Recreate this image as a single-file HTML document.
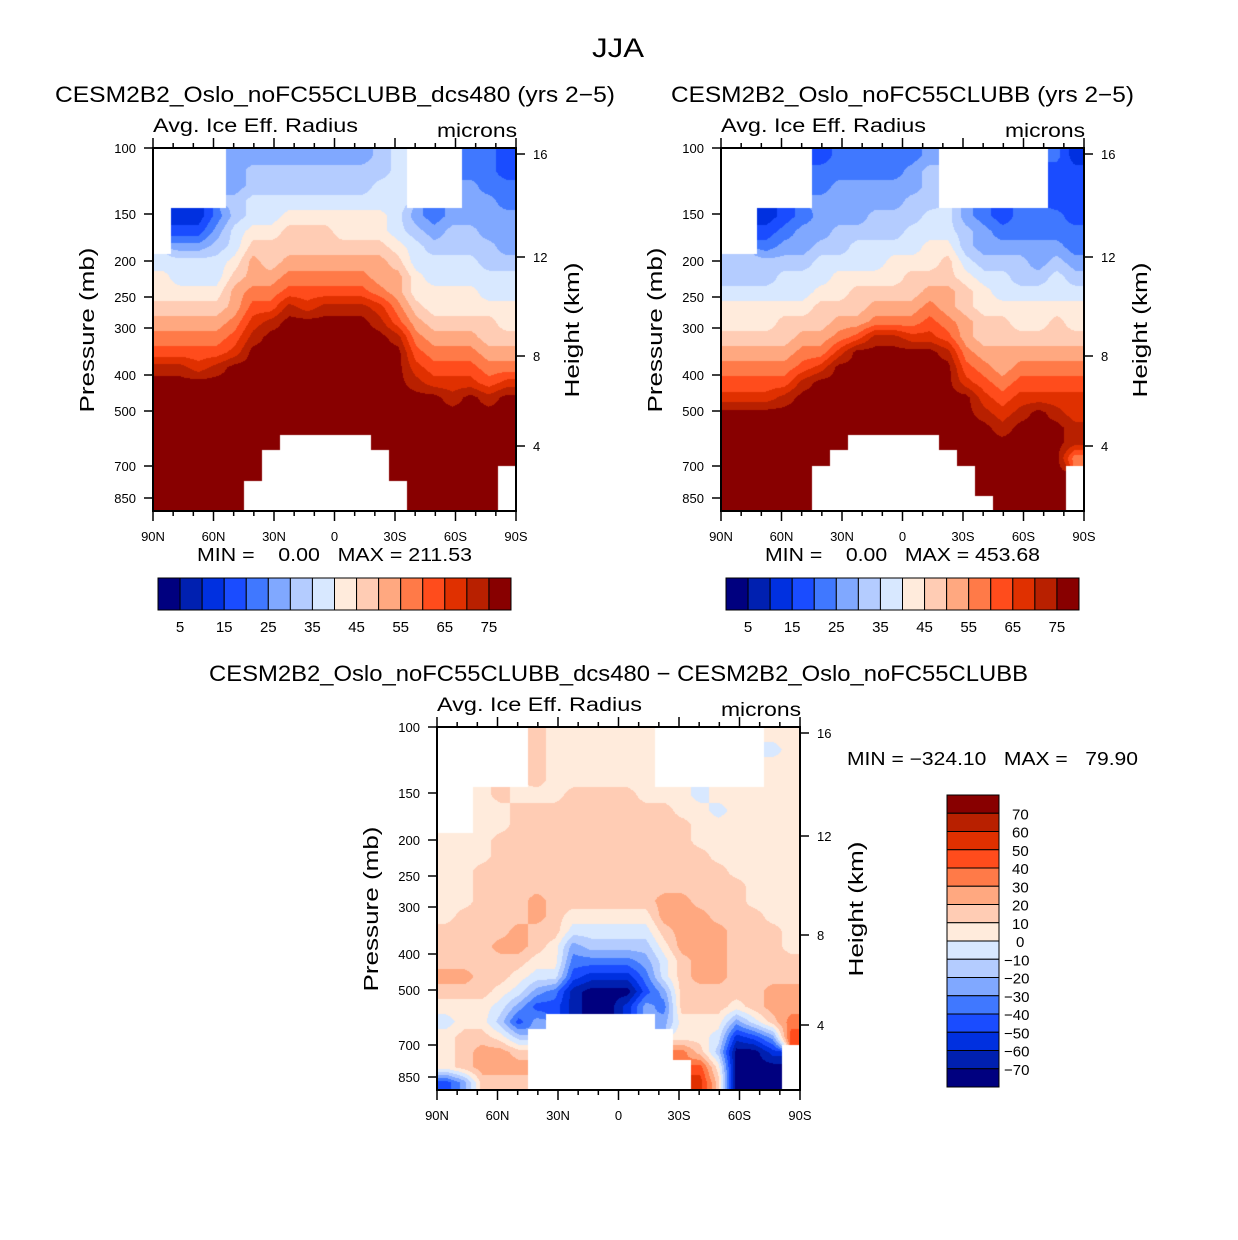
<!DOCTYPE html>
<html><head><meta charset="utf-8"><title>JJA Avg. Ice Eff. Radius</title>
<style>
html,body{margin:0;padding:0;background:#fff;}
#wrap{position:relative;width:1238px;height:1240px;background:#fff;}
canvas{position:absolute;display:block;}
svg{position:absolute;left:0;top:0;display:block;font-family:"Liberation Sans",sans-serif;}
</style></head>
<body>
<div id="wrap">
<canvas id="c1" width="363" height="363" style="left:153px;top:148px"></canvas>
<canvas id="c2" width="363" height="363" style="left:721px;top:148px"></canvas>
<canvas id="c3" width="363" height="363" style="left:437px;top:727px"></canvas>
<svg id="fig" width="1238" height="1240" viewBox="0 0 1238 1240" xmlns="http://www.w3.org/2000/svg">
<text x="618" y="57" font-size="27" text-anchor="middle" textLength="52" lengthAdjust="spacingAndGlyphs">JJA</text>
<g id="p1"></g>
<g id="p2"></g>
<g id="p3"></g>
</svg>
</div>
<script>
const N = null;
const colors = ["#00007f","#0020b0","#0030e0","#1a4cff","#4078ff","#80a8ff","#b4ccff","#d8e8ff","#ffebdc","#ffccb4","#ffa880","#ff7a48","#ff4c1c","#e03000","#b82000","#880000"];
const levelsAbs = [5,10,15,20,25,30,35,40,45,50,55,60,65,70,75];
const levelsDiff = [-70,-60,-50,-40,-30,-20,-10,0,10,20,30,40,50,60,70];
const latLabels = ["90N","60N","30N","0","30S","60S","90S"];
const pressureLabels = ["100","150","200","250","300","400","500","700","850"];
const pressureOffsets = [0,66,113,149,180,227,263,318,350];
const heightLabels = ["16","12","8","4"];
const heightOffsets = [6,109,208,298];
const absBarLabels = ["5","15","25","35","45","55","65","75"];
const diffBarLabels = ["70","60","50","40","30","20","10","0","\u221210","\u221220","\u221230","\u221240","\u221250","\u221260","\u221270"];

// Panel 1: dcs480 (columns = latitude 90N->90S, rows top->bottom)
const p1Data = [
[N,N,N,N,N,N,N,37,42,42,47,52,57,62,72,77,77,77,77,77,77,77,77,77],
[N,N,N,N,12,17,27,37,37,42,47,52,57,62,72,77,77,77,77,77,77,77,77,77],
[N,N,N,N,12,17,27,37,37,42,47,52,57,62,67,77,77,77,77,77,77,77,77,77],
[N,N,N,N,22,27,32,37,37,42,47,52,57,62,72,77,77,77,77,77,77,77,77,77],
[27,27,27,32,32,37,37,42,47,52,52,57,62,67,77,77,77,77,77,77,77,77,77,77],
[27,32,32,37,37,42,47,52,52,57,62,67,72,77,77,77,77,77,77,77,77,77,N,N],
[27,32,32,37,37,42,47,47,52,57,62,72,77,77,77,77,77,77,77,77,N,N,N,N],
[27,32,32,37,42,47,47,52,57,62,72,77,77,77,77,77,77,77,77,N,N,N,N,N],
[27,32,32,37,42,47,47,52,57,62,67,77,77,77,77,77,77,77,77,N,N,N,N,N],
[27,32,32,37,42,47,47,52,57,62,72,77,77,77,77,77,77,77,77,N,N,N,N,N],
[27,32,32,37,42,42,47,52,57,62,72,77,77,77,77,77,77,77,77,N,N,N,N,N],
[27,32,32,37,42,42,47,52,57,62,72,77,77,77,77,77,77,77,77,N,N,N,N,N],
[32,32,37,37,42,42,47,52,52,57,67,72,77,77,77,77,77,77,77,77,N,N,N,N],
[37,37,37,37,37,37,42,47,52,52,57,62,72,77,77,77,77,77,77,77,77,77,N,N],
[N,N,N,N,27,32,37,37,42,42,47,52,57,62,67,72,77,77,77,77,77,77,77,77],
[N,N,N,N,22,27,32,37,37,42,42,47,52,57,62,67,77,77,77,77,77,77,77,77],
[N,N,N,N,27,32,32,37,37,42,42,47,52,57,62,67,72,77,77,77,77,77,77,77],
[22,22,27,27,27,32,32,37,37,42,42,47,52,57,62,67,77,77,77,77,77,77,77,77],
[22,22,22,27,27,27,32,32,37,37,42,47,47,52,57,62,72,77,77,77,77,77,77,77],
[17,17,22,22,27,27,27,32,37,37,42,42,47,52,57,67,77,77,77,77,77,N,N,N]
];
// Panel 2: control
const p2Data = [
[N,N,N,N,N,N,N,32,32,37,42,42,47,52,57,62,67,77,77,77,77,77,77,77],
[N,N,N,N,N,N,N,32,32,37,42,42,47,52,57,62,67,77,77,77,77,77,77,77],
[N,N,N,N,12,17,22,32,32,37,42,42,47,52,57,62,67,77,77,77,77,77,77,77],
[N,N,N,N,17,22,27,32,37,37,42,47,47,52,57,62,72,77,77,77,77,77,77,77],
[N,N,N,N,22,27,27,32,37,37,42,47,52,57,62,72,77,77,77,77,77,77,77,77],
[17,22,22,27,27,27,32,37,37,42,47,47,52,57,67,77,77,77,77,77,77,N,N,N],
[22,22,27,27,27,32,32,37,42,42,47,52,57,67,77,77,77,77,77,77,N,N,N,N],
[22,22,27,27,27,32,37,37,42,47,47,52,62,77,77,77,77,77,77,N,N,N,N,N],
[22,22,27,27,32,32,37,37,42,47,52,57,72,77,77,77,77,77,77,N,N,N,N,N],
[22,22,27,27,32,32,37,42,42,47,52,57,72,77,77,77,77,77,77,N,N,N,N,N],
[22,27,27,32,32,37,37,42,47,47,52,57,67,77,77,77,77,77,77,N,N,N,N,N],
[27,32,32,32,37,37,42,42,47,52,57,62,67,77,77,77,77,77,77,N,N,N,N,N],
[N,N,N,N,37,37,42,47,47,52,52,57,62,72,77,77,77,77,77,77,N,N,N,N],
[N,N,N,N,27,32,32,37,42,47,47,52,52,57,62,67,77,77,77,77,77,N,N,N],
[N,N,N,N,22,27,27,32,37,42,42,47,47,52,57,62,67,72,77,77,77,77,77,N],
[N,N,N,N,17,22,27,32,37,37,42,47,47,52,52,57,62,67,72,77,77,77,77,77],
[N,N,N,N,22,22,27,32,32,37,42,42,47,52,57,62,67,72,77,77,77,77,77,77],
[N,N,N,N,22,22,27,27,32,37,42,42,47,52,57,62,67,77,77,77,77,77,77,77],
[22,17,17,17,22,22,27,32,37,37,42,47,47,52,57,62,67,72,77,77,77,77,77,77],
[12,17,17,17,17,22,22,27,32,37,42,42,47,52,57,62,67,67,72,72,57,N,N,N]
];
// Panel 3: difference
const p3Data = [
[N,N,N,N,N,N,N,5,5,5,5,5,5,15,15,15,25,15,5,-5,5,5,5,-45],
[N,N,N,N,N,N,N,5,5,5,5,5,15,15,15,15,25,15,5,5,15,15,15,-25],
[N,N,N,N,5,5,5,5,5,15,15,15,15,15,15,15,15,15,5,5,15,25,25,15],
[N,N,N,N,15,5,5,15,15,15,15,15,15,15,25,15,15,5,-5,-15,5,25,25,15],
[N,N,N,N,5,15,15,15,15,15,15,15,15,25,25,15,5,-5,-25,-45,-15,15,25,15],
[15,15,15,15,5,15,15,15,15,15,15,25,25,15,15,5,-5,-25,-45,-25,N,N,N,N],
[5,5,5,5,5,15,15,15,15,15,15,15,15,15,5,5,-5,-35,-45,N,N,N,N,N],
[5,5,5,5,15,15,15,15,15,15,15,15,5,-5,-25,-35,-45,-65,-65,N,N,N,N,N],
[5,5,5,5,15,15,15,15,15,15,15,15,5,-5,-15,-35,-55,-75,-75,N,N,N,N,N],
[5,5,5,5,15,15,15,15,15,15,15,15,5,-5,-15,-35,-55,-75,-75,N,N,N,N,N],
[5,5,5,5,15,15,15,15,15,15,15,15,5,-5,-15,-35,-55,-75,-55,N,N,N,N,N],
[5,5,5,5,5,15,15,15,15,15,15,15,5,-5,-15,-25,-35,-45,-25,N,N,N,N,N],
[N,N,N,N,5,15,15,15,15,15,15,25,25,15,5,-5,-5,-25,-35,-25,N,N,N,N],
[N,N,N,N,5,5,15,15,15,15,15,25,25,25,25,15,15,15,15,5,5,35,N,N],
[N,N,N,N,-5,5,5,5,15,15,15,15,25,25,25,25,25,15,15,5,5,15,45,55],
[N,N,N,N,5,-5,5,5,5,15,15,15,15,25,25,25,25,15,15,5,-5,-15,5,15],
[N,N,N,N,5,5,5,5,5,5,15,15,15,15,15,15,15,15,5,-25,-55,-75,-75,-75],
[N,N,N,N,5,5,5,5,5,5,5,5,15,15,15,15,15,15,15,-5,-45,-75,-75,-75],
[5,-5,5,5,5,5,5,5,5,5,5,5,5,15,15,15,15,25,25,15,-25,-55,-75,-75],
[5,5,5,5,5,5,5,5,5,5,5,5,5,5,5,15,15,25,25,35,45,N,N,N]
];

const NS = "http://www.w3.org/2000/svg";
const PW = 363, PH = 363;
function mk(tag, attrs, parent, txt){
  const e = document.createElementNS(NS, tag);
  for (const k in attrs) e.setAttribute(k, attrs[k]);
  if (txt !== undefined) e.textContent = txt;
  parent.appendChild(e);
  return e;
}
function colorIndex(v, levels){
  let i = 0;
  while (i < levels.length && v >= levels[i]) i++;
  return i;
}
function hexRGB(h){ return [parseInt(h.substr(1,2),16),parseInt(h.substr(3,2),16),parseInt(h.substr(5,2),16)]; }
const rgbColors = colors.map(hexRGB);
function fillField(canvasId, data, levels){
  const cv = document.getElementById(canvasId);
  const ctx = cv.getContext('2d');
  const img = ctx.createImageData(PW, PH);
  const nc = data.length, nr = data[0].length;
  const cw = PW / nc, ch = PH / nr;
  const get = (c, r) => {
    c = Math.max(0, Math.min(nc - 1, c)); r = Math.max(0, Math.min(nr - 1, r));
    return data[c][r];
  };
  for (let py = 0; py < PH; py++){
    for (let px = 0; px < PW; px++){
      const k = (py * PW + px) * 4;
      const ci = Math.min(nc - 1, Math.floor((px + 0.5) / cw)), ri = Math.min(nr - 1, Math.floor((py + 0.5) / ch));
      let rgb = [255,255,255];
      if (data[ci][ri] !== null){
        const u = (px + 0.5) / cw - 0.5, v = (py + 0.5) / ch - 0.5;
        const c0 = Math.floor(u), r0 = Math.floor(v), fu = u - c0, fv = v - r0;
        let s = 0, w = 0;
        const pts = [[c0,r0,(1-fu)*(1-fv)],[c0+1,r0,fu*(1-fv)],[c0,r0+1,(1-fu)*fv],[c0+1,r0+1,fu*fv]];
        for (const p of pts){ const val = get(p[0], p[1]); if (val !== null && p[2] > 0){ s += val * p[2]; w += p[2]; } }
        const val = w > 0 ? s / w : data[ci][ri];
        rgb = rgbColors[colorIndex(val, levels)];
      }
      img.data[k] = rgb[0]; img.data[k+1] = rgb[1]; img.data[k+2] = rgb[2]; img.data[k+3] = 255;
    }
  }
  ctx.putImageData(img, 0, 0);
}
function drawAxes(g, x0, y0, prefix){
  const frame = mk('rect', {x: x0, y: y0, width: PW, height: PH, fill: 'none', stroke: '#000', 'stroke-width': 2}, g);
  
  
  for (let k = 0; k <= 18; k++){
    const x = x0 + k * PW / 18;
    const len = (k % 3 === 0) ? 10 : 5;
    mk('line', {x1: x, y1: y0, x2: x, y2: y0 - len, stroke: '#000', 'stroke-width': 1.5}, g);
    mk('line', {x1: x, y1: y0 + PH, x2: x, y2: y0 + PH + len, stroke: '#000', 'stroke-width': 1.5}, g);
  }
  latLabels.forEach((t, i) => {
    const tx = mk('text', {x: x0 + i * PW / 6, y: y0 + PH + 30, 'font-size': 13, 'text-anchor': 'middle'}, g, t);
    
    
  });
  pressureLabels.forEach((t, i) => {
    const y = y0 + pressureOffsets[i];
    mk('line', {x1: x0 - 9, y1: y, x2: x0, y2: y, stroke: '#000', 'stroke-width': 1.5}, g);
    const tx = mk('text', {x: x0 - 17, y: y + 5, 'font-size': 13, 'text-anchor': 'end'}, g, t);
    
    
  });
  heightLabels.forEach((t, i) => {
    const y = y0 + heightOffsets[i];
    mk('line', {x1: x0 + PW, y1: y, x2: x0 + PW + 9, y2: y, stroke: '#000', 'stroke-width': 1.5}, g);
    const tx = mk('text', {x: x0 + PW + 17, y: y + 5, 'font-size': 13}, g, t);
    
    
  });
  const yt = mk('text', {x: 0, y: 0, 'font-size': 20, 'text-anchor': 'middle', transform: `translate(${x0-59},${y0+182}) rotate(-90)`, textLength: 165, lengthAdjust: 'spacingAndGlyphs'}, g, 'Pressure (mb)');
  
  
  const yt2 = mk('text', {x: 0, y: 0, 'font-size': 20, 'text-anchor': 'middle', transform: `translate(${x0+PW+63},${y0+182}) rotate(-90)`, textLength: 135, lengthAdjust: 'spacingAndGlyphs'}, g, 'Height (km)');
  
  
  const s1 = mk('text', {x: x0, y: y0 - 16, 'font-size': 19, textLength: 205, lengthAdjust: 'spacingAndGlyphs'}, g, 'Avg. Ice Eff. Radius');
  
  
  const s2 = mk('text', {x: x0 + PW + 1, y: y0 - 11, 'font-size': 19, 'text-anchor': 'end', textLength: 80, lengthAdjust: 'spacingAndGlyphs'}, g, 'microns');
  
  
}
function hBar(g, x0, y0){
  const w = 353 / 16;
  for (let i = 0; i < 16; i++){
    const r = mk('rect', {x: x0 + i * w, y: y0, width: w, height: 32, fill: colors[i], stroke: '#000', 'stroke-width': 1}, g);
    
    
  }
  absBarLabels.forEach((t, i) => {
    const tx = mk('text', {x: x0 + (2 * i + 1) * w, y: y0 + 54, 'font-size': 15, 'text-anchor': 'middle'}, g, t);
    
    
  });
}
fillField('c1', p1Data, levelsAbs);
fillField('c2', p2Data, levelsAbs);
fillField('c3', p3Data, levelsDiff);
const g1 = document.getElementById('p1'), g2 = document.getElementById('p2'), g3 = document.getElementById('p3');
drawAxes(g1, 153, 148, 'panel1');
drawAxes(g2, 721, 148, 'panel2');
drawAxes(g3, 437, 727, 'panel3');
hBar(g1, 158, 578);
hBar(g2, 726, 578);

let t;
t = mk('text', {x: 55, y: 102, 'font-size': 22, textLength: 560, lengthAdjust: 'spacingAndGlyphs'}, g1, 'CESM2B2_Oslo_noFC55CLUBB_dcs480 (yrs 2\u22125)');


t = mk('text', {x: 671, y: 102, 'font-size': 22, textLength: 463, lengthAdjust: 'spacingAndGlyphs'}, g2, 'CESM2B2_Oslo_noFC55CLUBB (yrs 2\u22125)');


t = mk('text', {x: 209, y: 681, 'font-size': 22, textLength: 819, lengthAdjust: 'spacingAndGlyphs'}, g3, 'CESM2B2_Oslo_noFC55CLUBB_dcs480 \u2212 CESM2B2_Oslo_noFC55CLUBB');


t = mk('text', {x: 197, y: 561, 'font-size': 18, textLength: 275, lengthAdjust: 'spacingAndGlyphs', style: 'white-space:pre'}, g1, 'MIN =    0.00   MAX = 211.53');


t = mk('text', {x: 765, y: 561, 'font-size': 18, textLength: 275, lengthAdjust: 'spacingAndGlyphs', style: 'white-space:pre'}, g2, 'MIN =    0.00   MAX = 453.68');


t = mk('text', {x: 847, y: 765, 'font-size': 18, textLength: 291, lengthAdjust: 'spacingAndGlyphs', style: 'white-space:pre'}, g3, 'MIN = \u2212324.10   MAX =   79.90');



const vh = 292 / 16;
for (let i = 0; i < 16; i++){
  const r = mk('rect', {x: 947, y: 795 + i * vh, width: 52, height: vh, fill: colors[15 - i], stroke: '#000', 'stroke-width': 1}, g3);
  
  
}
diffBarLabels.forEach((s, i) => {
  const x = s.startsWith('\u2212') ? 1004 : (s === '0' ? 1016 : 1012);
  const tx = mk('text', {x: x, y: 795 + (i + 1) * vh + 6, 'font-size': 15}, g3, s);
  
  
});
</script>
</body></html>
